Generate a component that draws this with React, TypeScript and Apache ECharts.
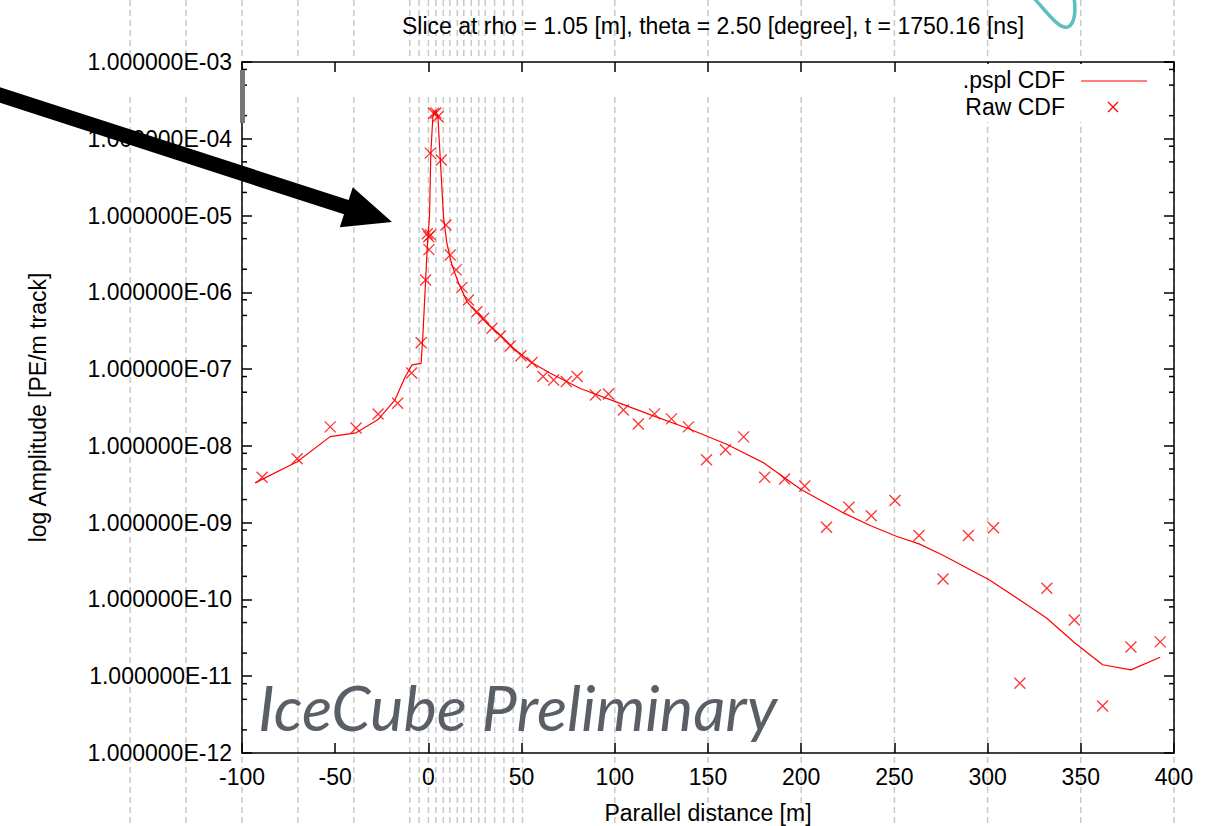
import React, { useEffect, useRef } from 'react';
import * as echarts from 'echarts';

const TITLE = 'Slice at rho = 1.05 [m], theta = 2.50 [degree], t = 1750.16 [ns]';
const X_NAME = 'Parallel distance [m]';
const Y_NAME = 'log Amplitude [PE/m track]';
const LINE_NAME = '.pspl CDF';
const RAW_NAME = 'Raw CDF';
const WATERMARK = 'IceCube Preliminary';

const X_MIN = -100;
const X_MAX = 400;
const X_STEP = 50;
const Y_MIN = 1e-12;
const Y_MAX = 1e-3;

// .pspl CDF curve
const splineX = [
  -93, -70.4, -52.7, -38.8, -27, -17.9, -12.5, -8.8, -3.9, -3.0, -0.5, 0.6, 1.3, 2.4, 3.7, 5.1, 6.3, 8.1, 9.9,
  12.6, 16.2, 20.7, 26.0, 31.4, 38.6, 45.7, 54.7, 65.4, 81.5, 100, 120, 140, 160, 180, 199.7, 222.9, 237.3,
  250.7, 263.2, 275.8, 287.4, 300.8, 316.9, 331.8, 346.5, 361.7, 376.9, 392.6,
];
const splineY = [
  3.3e-9, 6.2e-9, 1.32e-8, 1.48e-8, 2.2e-8, 3.98e-8, 7.9e-8, 1.135e-7, 1.19e-7, 2.65e-7, 4.36e-6, 9.7e-6, 6.5e-5,
  1.94e-4, 2.37e-4, 1.94e-4, 5.85e-5, 9.7e-6, 4.36e-6, 2.28e-6, 1.31e-6, 7.57e-7, 5.35e-7, 3.96e-7, 2.79e-7,
  1.87e-7, 1.25e-7, 8.85e-8, 5.6e-8, 3.8e-8, 2.5e-8, 1.66e-8, 1.05e-8, 6.0e-9, 2.73e-9, 1.33e-9, 9.1e-10,
  6.7e-10, 5.3e-10, 3.8e-10, 2.69e-10, 1.8e-10, 1.0e-10, 5.7e-11, 2.75e-11, 1.41e-11, 1.21e-11, 1.77e-11,
];

// Raw CDF points
const rawX = [
  -89.2, -70.4, -52.7, -38.8, -27.0, -16.5, -9.0, -3.9, -1.5, 0.3, 0.2, -0.6, 1.2, 1.0, 2.8, 4.0, 5.1, 6.9, 9.4,
  11.7, 14.9, 18.0, 21.5, 26.0, 29.6, 34.1, 38.6, 43.9, 49.7, 55.6, 61.5, 67.2, 74.0, 79.8, 89.6, 96.6, 104.6,
  112.6, 121.3, 130.4, 139.5, 149.2, 159.4, 169.1, 180.4, 191.1, 201.9, 213.6, 225.6, 237.6, 250.3, 263.2,
  276.1, 289.7, 303.2, 317.3, 331.8, 346.5, 361.7, 376.9, 392.6,
];
const rawY = [
  3.9e-9, 6.8e-9, 1.77e-8, 1.71e-8, 2.6e-8, 3.6e-8, 8.9e-8, 2.2e-7, 1.45e-6, 3.6e-6, 5.3e-6, 5.8e-6, 5.6e-6,
  6.5e-5, 2.15e-4, 2.17e-4, 1.94e-4, 5.3e-5, 7.55e-6, 3.07e-6, 1.96e-6, 1.16e-6, 7.96e-7, 5.6e-7, 4.6e-7,
  3.4e-7, 2.7e-7, 2.0e-7, 1.49e-7, 1.22e-7, 8.0e-8, 7.2e-8, 6.9e-8, 8.0e-8, 4.6e-8, 4.75e-8, 2.94e-8, 1.93e-8,
  2.61e-8, 2.25e-8, 1.77e-8, 6.6e-9, 8.9e-9, 1.31e-8, 3.9e-9, 3.7e-9, 3.0e-9, 8.7e-10, 1.59e-9, 1.23e-9,
  1.94e-9, 6.8e-10, 1.85e-10, 6.8e-10, 8.6e-10, 8.1e-12, 1.4e-10, 5.4e-11, 4.1e-12, 2.4e-11, 2.8e-11,
];

// log-axis minor tick mantissas
const minorTickFactors = [2, 5, 8];
// background dashed guide positions (in x data units)
const guideX = [
  -160, -130, -100, -70, -40, -10, -5, 0, 4, 8, 11.5, 15.5, 19, 23, 27, 30.5, 35.5, 40.5, 45.5, 50.5, 100, 150,
  200, 250, 300, 350, 400,
];

const FONT = '"Liberation Sans", Arial, Helvetica, sans-serif';
const RED = '#ff0000';

function fmtExp(v: number): string {
  const e = Math.round(Math.log10(v));
  const m = v / Math.pow(10, e);
  const sign = e < 0 ? '-' : '+';
  return m.toFixed(6) + 'E' + sign + String(Math.abs(e)).padStart(2, '0');
}

export default function App() {
  const ref = useRef<HTMLDivElement>(null);
  useEffect(() => {
    document.body.style.margin = '0';
    const chart = echarts.init(ref.current!, null, { renderer: 'svg' });

    const minorData: number[][] = [];
    for (let e = -12; e < -3; e++) {
      for (const f of minorTickFactors) minorData.push([X_MIN, f * Math.pow(10, e)]);
    }

    const axisLineStyle = { color: '#000', width: 1.5 };
    const option: any = {
      animation: false,
      backgroundColor: '#fff',
      title: {
        text: TITLE,
        left: 708,
        top: 9,
        textAlign: 'center',
        textStyle: { fontFamily: FONT, fontSize: 23, fontWeight: 'normal', color: '#000' },
      },
      legend: { show: false },
      grid: { left: 242, right: 35, top: 62, bottom: 73, containLabel: false, outerBoundsMode: 'none' },
      xAxis: [
        {
          type: 'value',
          min: X_MIN,
          max: X_MAX,
          interval: X_STEP,
          name: X_NAME,
          nameLocation: 'middle',
          nameGap: 48,
          nameTextStyle: { fontFamily: FONT, fontSize: 23, color: '#000' },
          axisLine: { show: true, onZero: false, lineStyle: axisLineStyle },
          axisTick: { show: true, inside: true, length: 10, lineStyle: axisLineStyle },
          axisLabel: { fontFamily: FONT, fontSize: 23, color: '#000', margin: 12 },
          splitLine: { show: false },
        },
        {
          type: 'value',
          position: 'top',
          min: X_MIN,
          max: X_MAX,
          interval: X_STEP,
          axisLine: { show: true, onZero: false, lineStyle: axisLineStyle },
          axisTick: { show: true, inside: true, length: 10, lineStyle: axisLineStyle },
          axisLabel: { show: false },
          splitLine: { show: false },
        },
      ],
      yAxis: [
        {
          type: 'log',
          logBase: 10,
          min: Y_MIN,
          max: Y_MAX,
          interval: 1,
          name: Y_NAME,
          nameLocation: 'middle',
          nameRotate: 90,
          nameGap: 193,
          nameTextStyle: { fontFamily: FONT, fontSize: 23, color: '#000' },
          axisLine: { show: true, onZero: false, lineStyle: axisLineStyle },
          axisTick: { show: true, inside: true, length: 10, lineStyle: axisLineStyle },
          axisLabel: { fontFamily: FONT, fontSize: 23, color: '#000', margin: 10, formatter: (v: number) => fmtExp(v) },
          splitLine: { show: false },
        },
        {
          type: 'log',
          logBase: 10,
          position: 'right',
          min: Y_MIN,
          max: Y_MAX,
          interval: 1,
          axisLine: { show: true, onZero: false, lineStyle: axisLineStyle },
          axisTick: { show: true, inside: true, length: 10, lineStyle: axisLineStyle },
          axisLabel: { show: false },
          splitLine: { show: false },
        },
      ],
      series: [
        {
          name: LINE_NAME,
          type: 'line',
          data: splineX.map((x, i) => [x, splineY[i]]),
          symbol: 'none',
          lineStyle: { color: RED, width: 1.2 },
          itemStyle: { color: RED },
          z: 3,
        },
        {
          name: RAW_NAME,
          type: 'scatter',
          data: rawX.map((x, i) => [x, rawY[i]]),
          symbol: 'path://M0 0L10 10M10 0L0 10',
          symbolSize: 11,
          itemStyle: { color: RED, borderColor: RED, borderWidth: 1.3 },
          z: 4,
        },
        {
          name: 'minor ticks',
          type: 'custom',
          silent: true,
          data: minorData,
          encode: { x: 0, y: 1 },
          renderItem: (params: any, api: any) => {
            const v = api.value(1);
            const pL = api.coord([X_MIN, v]);
            const pR = api.coord([X_MAX, v]);
            const st = { stroke: '#000', lineWidth: 1.5 };
            return {
              type: 'group',
              children: [
                { type: 'line', shape: { x1: pL[0], y1: pL[1], x2: pL[0] + 5, y2: pL[1] }, style: st },
                { type: 'line', shape: { x1: pR[0] - 5, y1: pR[1], x2: pR[0], y2: pR[1] }, style: st },
              ],
            };
          },
          z: 5,
        },
      ],
    };
    chart.setOption(option);

    const graphics: any[] = [];
    const guideStyle = { stroke: '#c8c8c8', lineWidth: 1.5, lineDash: [6, 4] };
    guideX.forEach((gx) => {
      const px = chart.convertToPixel({ xAxisIndex: 0 }, gx) as number;
      graphics.push({ type: 'line', z: 0, silent: true, shape: { x1: px, y1: 0, x2: px, y2: 60 }, style: guideStyle });
      graphics.push({ type: 'line', z: 0, silent: true, shape: { x1: px, y1: 97, x2: px, y2: 826 }, style: guideStyle });
    });
    // legend (white patch, labels, samples)
    graphics.push({ type: 'rect', z: 1, silent: true, shape: { x: 935, y: 64, width: 225, height: 58 }, style: { fill: '#fff' } });
    const legendText = { fontFamily: FONT, fontSize: 23, fill: '#000', align: 'right', verticalAlign: 'middle' };
    graphics.push({ type: 'text', z: 20, silent: true, x: 1065, y: 80, style: { ...legendText, text: LINE_NAME } });
    graphics.push({ type: 'text', z: 20, silent: true, x: 1065, y: 107, style: { ...legendText, text: RAW_NAME } });
    graphics.push({
      type: 'line',
      z: 20,
      silent: true,
      shape: { x1: 1081, y1: 81, x2: 1147, y2: 81 },
      style: { stroke: RED, lineWidth: 1.2 },
    });
    const xs = { stroke: RED, lineWidth: 1.3 };
    graphics.push({ type: 'line', z: 20, silent: true, shape: { x1: 1108, y1: 102, x2: 1118, y2: 112 }, style: xs });
    graphics.push({ type: 'line', z: 20, silent: true, shape: { x1: 1118, y1: 102, x2: 1108, y2: 112 }, style: xs });
    // grey bar near top-left
    graphics.push({ type: 'rect', z: 10, silent: true, shape: { x: 240, y: 70, width: 5, height: 53 }, style: { fill: '#777' } });
    // watermark
    graphics.push({
      type: 'text',
      z: 50,
      silent: true,
      x: 258,
      y: 706,
      style: {
        text: WATERMARK,
        fontFamily: 'Lato, "Open Sans", sans-serif',
        fontStyle: 'italic',
        fontSize: 63,
        fill: '#5a5f66',
        align: 'left',
        verticalAlign: 'middle',
      },
    });
    // arrow
    graphics.push({
      type: 'polygon',
      z: 100,
      silent: true,
      shape: {
        points: [
          [-7.2, 84.8],
          [348.6, 200.1],
          [352.8, 187.2],
          [392, 222],
          [339.8, 227.2],
          [344.0, 214.3],
          [-11.8, 99.0],
        ],
      },
      style: { fill: '#000' },
    });
    // teal loop at top-right
    const teal = { stroke: '#5cbfc0', lineWidth: 3.5, fill: 'none' };
    graphics.push({
      type: 'bezierCurve',
      z: 100,
      silent: true,
      shape: { x1: 1034, y1: -2, cpx1: 1048, cpy1: 14, cpx2: 1060, cpy2: 30, x2: 1068, y2: 27 },
      style: teal,
    });
    graphics.push({
      type: 'bezierCurve',
      z: 100,
      silent: true,
      shape: { x1: 1068, y1: 27, cpx1: 1075, cpy1: 24, cpx2: 1076, cpy2: 10, x2: 1074, y2: -2 },
      style: teal,
    });
    chart.setOption({ graphic: graphics });

    return () => chart.dispose();
  }, []);

  return <div ref={ref} style={{ width: 1209, height: 826 }} />;
}
